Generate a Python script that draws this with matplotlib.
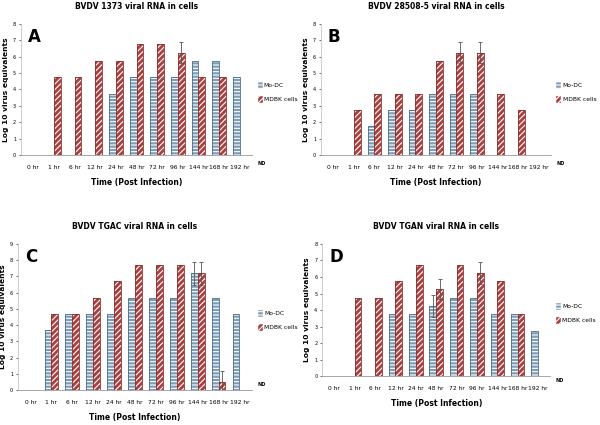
import matplotlib.pyplot as plt
from matplotlib.patches import Patch
import numpy as np

plt.rcParams['font.family'] = ['DejaVu Sans']
plt.rcParams['hatch.linewidth'] = 0.8

times = ['0 hr', '1 hr', '6 hr', '12 hr', '24 hr', '48 hr', '72 hr', '96 hr', '144 hr', '168 hr', '192 hr']

# panel A - BVDV 1373
a_modc = [0, 0, 0, 0, 3.75, 4.75, 4.75, 4.75, 5.75, 5.75, 4.75]
a_mdbk = [0, 4.75, 4.75, 5.75, 5.75, 6.75, 6.75, 6.25, 4.75, 4.75, 0]
a_modc_err = [0, 0, 0, 0, 0, 0, 0, 0, 0, 0, 0]
a_mdbk_err = [0, 0, 0, 0, 0, 0, 0, 0.65, 0, 0, 0]

# panel B - BVDV 28508-5
b_modc = [0, 0, 1.75, 2.75, 2.75, 3.75, 3.75, 3.75, 0, 0, 0]
b_mdbk = [0, 2.75, 3.75, 3.75, 3.75, 5.75, 6.25, 6.25, 3.75, 2.75, 0]
b_modc_err = [0, 0, 0, 0, 0, 0, 0, 0, 0, 0, 0]
b_mdbk_err = [0, 0, 0, 0, 0, 0, 0.65, 0.65, 0, 0, 0]

# panel C - BVDV TGAC
c_modc = [0, 3.7, 4.7, 4.7, 4.7, 5.7, 5.7, 5.7, 7.2, 5.7, 4.7]
c_mdbk = [0, 4.7, 4.7, 5.7, 6.7, 7.7, 7.7, 7.7, 7.2, 0.5, 0]
c_modc_err = [0, 0, 0, 0, 0, 0, 0, 0, 0.7, 0, 0]
c_mdbk_err = [0, 0, 0, 0, 0, 0, 0, 0, 0.7, 0.7, 0]

# panel D - BVDV TGAN
d_modc = [0, 0, 0, 3.75, 3.75, 4.25, 4.75, 4.75, 3.75, 3.75, 2.75]
d_mdbk = [0, 4.75, 4.75, 5.75, 6.75, 5.25, 6.75, 6.25, 5.75, 3.75, 0]
d_modc_err = [0, 0, 0, 0, 0, 0.65, 0, 0, 0, 0, 0]
d_mdbk_err = [0, 0, 0, 0, 0, 0.6, 0, 0.65, 0, 0, 0]

blue_fill, blue_edge = '#7d9db6', '#4b6d88'
red_fill, red_edge = '#a9403f', '#8a2f2f'

fig = plt.figure(figsize=(6, 4.25), dpi=100)


def panel(rect, modc, mdbk, modc_err, mdbk_err, ymax, title, letter, nd_y):
    ax = fig.add_axes(rect)
    x = np.arange(len(times))
    w = 0.33
    # fill + white hatch, then the outline on top
    ax.bar(x - w/2, modc, w, color=blue_fill, edgecolor='white', hatch='-----', linewidth=0)
    ax.bar(x - w/2, modc, w, fill=False, edgecolor=blue_edge, linewidth=0.6)
    ax.bar(x + w/2, mdbk, w, color=red_fill, edgecolor='white', hatch='//////', linewidth=0)
    ax.bar(x + w/2, mdbk, w, fill=False, edgecolor=red_edge, linewidth=0.6)
    for xs, v, e in [(x - w/2, modc, modc_err), (x + w/2, mdbk, mdbk_err)]:
        for xi, vi, ei in zip(xs, v, e):
            if ei > 0:
                ax.errorbar(xi, vi, yerr=ei, color='#555555', elinewidth=0.6,
                            capsize=1.5, capthick=0.6)
    ax.set_xlim(-0.6, len(times) - 0.4)
    ax.set_ylim(0, ymax)
    ax.set_yticks(range(ymax + 1))
    ax.set_xticks(x)
    ax.set_xticklabels(times, fontsize=4.3)
    ax.tick_params(axis='y', labelsize=3.5, length=1.5, width=0.4, pad=2)
    ax.tick_params(axis='x', length=0, pad=7)
    for s in ['top', 'right']:
        ax.spines[s].set_visible(False)
    ax.spines['left'].set_color('#bbbbbb')
    ax.spines['bottom'].set_color('#999999')
    ax.spines['left'].set_linewidth(0.5)
    ax.spines['bottom'].set_linewidth(0.6)
    ax.set_ylabel('Log 10 virus equivalents', fontsize=5.4, fontweight='bold', labelpad=3)
    ax.set_xlabel('Time (Post Infection)', fontsize=5.5, fontweight='bold', labelpad=6)
    ax.set_title(title, fontsize=5.5, fontweight='bold', pad=11)
    ax.text(0.03, 0.97, letter, transform=ax.transAxes, fontsize=12,
            fontweight='bold', va='top', ha='left')
    ax.text(1.025, nd_y, 'ND', transform=ax.transAxes, fontsize=3.5,
            fontweight='bold', va='center', ha='left')
    handles = [Patch(facecolor=blue_fill, edgecolor='white', hatch='-----', label='Mo-DC'),
               Patch(facecolor=red_fill, edgecolor='white', hatch='//////', label='MDBK cells')]
    ax.legend(handles=handles, loc='center left', bbox_to_anchor=(1.01, 0.48),
              frameon=False, fontsize=4.3, handlelength=1.0, handleheight=1.7,
              handletextpad=0.2, labelspacing=1.0, borderaxespad=0)
    return ax


panel([0.035, 0.635, 0.385, 0.309], a_modc, a_mdbk, a_modc_err, a_mdbk_err, 8,
      'BVDV 1373 viral RNA in cells', 'A', -0.06)
panel([0.535, 0.635, 0.383, 0.309], b_modc, b_mdbk, b_modc_err, b_mdbk_err, 8,
      'BVDV 28508-5 viral RNA in cells', 'B', -0.06)
panel([0.030, 0.082, 0.390, 0.344], c_modc, c_mdbk, c_modc_err, c_mdbk_err, 9,
      'BVDV TGAC viral RNA in cells', 'C', 0.04)
panel([0.537, 0.115, 0.380, 0.311], d_modc, d_mdbk, d_modc_err, d_mdbk_err, 8,
      'BVDV TGAN viral RNA in cells', 'D', -0.03)

fig.savefig('out.png', dpi=100, facecolor='white')
